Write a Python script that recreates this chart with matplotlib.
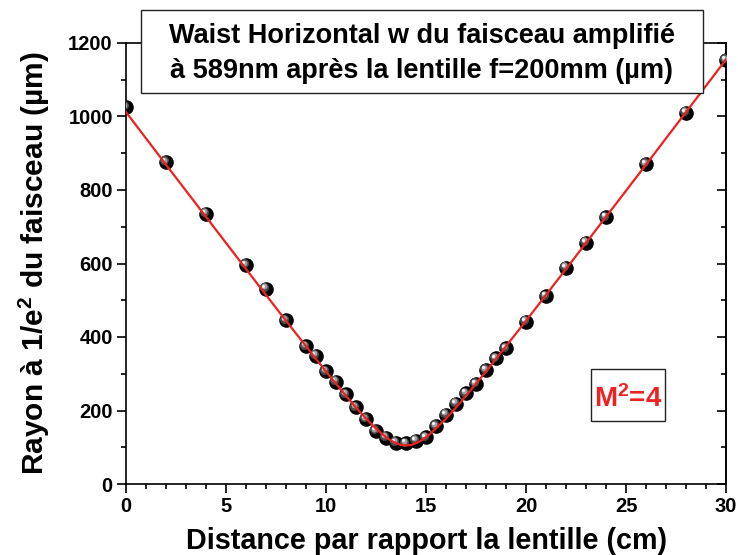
import matplotlib
matplotlib.use("Agg")
import matplotlib.pyplot as plt
from matplotlib.patches import Rectangle
from matplotlib.transforms import offset_copy
from matplotlib.ticker import MultipleLocator

plt.rcParams['font.family'] = ['Liberation Sans', 'DejaVu Sans']
plt.rcParams['font.weight'] = 'bold'
plt.rcParams['mathtext.default'] = 'regular'

# measured points
dist_cm = [0, 2, 4, 6, 7, 8, 9, 9.5, 10, 10.5, 11, 11.5, 12, 12.5, 13, 13.5, 14, 14.5,
           15, 15.5, 16, 16.5, 17, 17.5, 18, 18.5, 19, 20, 21, 22, 23, 24, 26, 28, 30]
rayon_um = [1026, 876, 735, 596, 531, 445, 375, 349, 307, 278, 244, 209, 177, 144, 126, 112, 111, 118,
            127, 158, 189, 218, 247, 272, 310, 342, 369, 442, 511, 589, 657, 726, 871, 1010, 1154]

# fitted curve
fit_x = [0, 2, 4, 6, 8, 10, 10.5, 11, 11.5, 12, 12.5, 13, 13.25, 13.5, 13.75, 14, 14.25, 14.5,
         14.75, 15, 15.5, 16, 16.5, 17, 17.5, 18, 20, 22, 24, 26, 28, 30]
fit_w = [1012, 869, 727, 585, 444, 306, 273, 240, 208, 178, 151, 127, 118, 111, 106, 105, 106, 111,
         118, 127, 151, 178, 208, 240, 273, 306, 444, 585, 727, 869, 1012, 1155]

title_lines = ["Waist Horizontal w du faisceau amplifié", "à 589nm après la lentille f=200mm (µm)"]
x_label = "Distance par rapport la lentille (cm)"
y_label = r"Rayon à 1/e$^2$ du faisceau (µm)"
m2_text = r"M$^2$=4"

W, H = 738, 555
fig = plt.figure(figsize=(W / 100, H / 100), dpi=100)
ax = fig.add_axes([126 / W, 1 - 484 / H, 600 / W, 441 / H])

# sphere-like markers
ax.plot(dist_cm, rayon_um, 'o', color='black', markersize=10.5, markeredgewidth=0, zorder=3)
for dx, dy, ms, col in [(-1.6, 1.6, 6.5, '#4a4a4a'), (-2.4, 2.4, 4.2, '#a0a0a0'), (-2.8, 2.8, 2.2, '#f4f4f4')]:
    tr = offset_copy(ax.transData, fig=fig, x=dx, y=dy, units='dots')
    ax.plot(dist_cm, rayon_um, 'o', color=col, markersize=ms, markeredgewidth=0,
            transform=tr, zorder=3)

ax.plot(fit_x, fit_w, '-', color='#ee2020', linewidth=1.6, zorder=4)

ax.set_xlim(0, 30)
ax.set_ylim(0, 1200)
ax.xaxis.set_major_locator(MultipleLocator(5))
ax.xaxis.set_minor_locator(MultipleLocator(1))
ax.yaxis.set_major_locator(MultipleLocator(200))
ax.yaxis.set_minor_locator(MultipleLocator(100))
for s in ax.spines.values():
    s.set_linewidth(1.2)
ax.tick_params(axis='both', which='major', length=6.5, width=1.2, labelsize=14.5, pad=3)
ax.tick_params(axis='both', which='minor', length=3.5, width=1.2)
ax.tick_params(axis='y', which='both', right=False)
# right ticks point inward
sec = ax.secondary_yaxis('right')
sec.yaxis.set_major_locator(MultipleLocator(200))
sec.yaxis.set_minor_locator(MultipleLocator(100))
sec.tick_params(axis='y', which='major', direction='in', length=6.5, width=1.2, labelright=False)
sec.tick_params(axis='y', which='minor', direction='in', length=3.5, width=1.2)
sec.spines['right'].set_linewidth(1.2)

for lbl in ax.get_xticklabels() + ax.get_yticklabels():
    lbl.set_fontweight('bold')

ax.set_xlabel(x_label, fontsize=20.7, fontweight='bold', labelpad=8)
ax.set_ylabel(y_label, fontsize=21.5, fontweight='bold', labelpad=12)

# title box
fig.add_artist(Rectangle((141 / W, 1 - 93 / H), 562 / W, 83 / H, transform=fig.transFigure,
                         facecolor='white', edgecolor='#222222', linewidth=1.0, zorder=5))
fig.text(422 / W, 1 - 43 / H, title_lines[0], ha='center', va='baseline', fontsize=19.5,
         fontweight='bold', zorder=6)
fig.text(422 / W, 1 - 78 / H, title_lines[1], ha='center', va='baseline', fontsize=19.5,
         fontweight='bold', zorder=6)

# M^2 box
ax.add_patch(Rectangle((591 / W, 1 - 421 / H), 74 / W, 52 / H, transform=fig.transFigure,
                       facecolor='white', edgecolor='#222222', linewidth=1.0, zorder=5))
fig.text(628 / W, 1 - 407 / H, m2_text, ha='center', va='baseline', fontsize=20,
         fontweight='bold', color='#ee2222', zorder=6)

fig.savefig("out.png", dpi=100)
